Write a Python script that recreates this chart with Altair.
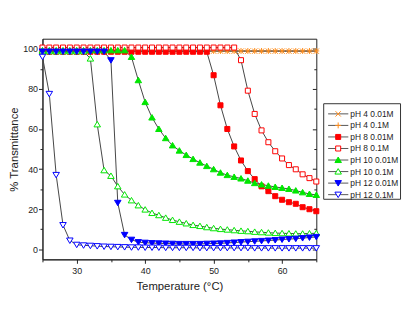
import altair as alt
import pandas as pd

temps = list(range(25, 66))
labels = ["pH 4 0.01M", "pH 4 0.1M", "pH 8 0.01M", "pH 8 0.1M",
          "pH 10 0.01M", "pH 10 0.1M", "pH 12 0.01M", "pH 12 0.1M"]

ph4_001 = [98.8, 98.8, 98.8, 98.8, 98.8, 98.8, 98.8, 98.8, 98.8, 98.8,
           98.8, 98.8, 98.8, 98.8, 98.8, 98.8, 98.8, 98.8, 98.8, 98.8,
           98.8, 98.8, 98.8, 98.8, 98.8, 98.8, 98.8, 98.8, 98.8, 98.8,
           98.8, 98.8, 98.8, 98.8, 98.8, 98.8, 98.8, 98.8, 98.8, 98.8, 98.8]
ph4_01 = [98.9, 98.9, 98.9, 98.9, 98.9, 98.9, 98.9, 98.9, 98.9, 98.9,
          98.9, 98.9, 98.9, 98.9, 98.9, 98.9, 98.9, 98.9, 98.9, 98.9,
          98.9, 98.9, 98.9, 98.9, 98.9, 98.9, 98.9, 98.9, 98.9, 98.9,
          98.9, 98.9, 98.9, 98.9, 98.9, 98.9, 98.9, 98.9, 98.9, 98.9, 98.9]
ph8_001 = [98.5, 98.5, 98.5, 98.5, 98.5, 98.5, 98.5, 98.5, 98.5, 98.5,
           98.5, 98.5, 98.5, 98.5, 98.5, 98.5, 98.5, 98.5, 98.5, 98.5,
           98.5, 98.5, 98.5, 98.5, 98.5,
           86.8, 71.8, 60.0, 51.3, 44.3, 39.0, 35.0, 31.4, 29.0, 26.5,
           24.7, 23.5, 22.7, 21.0, 20.0, 19.0]
ph8_01 = [100.6, 100.6, 100.6, 100.6, 100.6, 100.6, 100.6, 100.6, 100.6, 100.6,
          100.6, 100.6, 100.6, 100.6, 100.6, 100.6, 100.6, 100.6, 100.6, 100.6,
          100.6, 100.6, 100.6, 100.6, 100.6, 100.6, 100.6, 100.6, 100.6,
          94.3, 79.1, 67.5, 59.3, 53.4, 48.9, 45.3, 42.0, 39.9, 37.4, 35.5, 33.8]
ph10_001 = [99.2, 99.2, 99.2, 99.2, 99.2, 99.2, 99.2, 99.2, 99.2, 99.2,
            99.2, 99.2, 99.2,
            95.9, 84.3, 73.4, 65.7, 60.0, 55.4, 51.8, 49.2, 47.0, 45.0,
            43.2, 41.5, 39.9, 38.2, 37.0, 36.1, 35.3, 34.2, 33.0, 32.3,
            31.7, 31.1, 30.6, 30.1, 29.3, 28.4, 27.6, 27.1]
ph10_01 = [98.7, 98.7, 98.7, 98.7, 98.7, 98.7, 98.7,
           95.1, 62.3, 39.4, 36.6, 31.4, 27.3, 24.4, 21.9, 19.8, 18.1,
           17.0, 15.7, 14.6, 13.7, 12.9, 12.1, 11.6, 11.0, 10.5, 10.1,
           9.8, 9.5, 9.2, 9.0, 8.7, 8.5, 8.3, 8.1, 8.0, 7.9,
           7.8, 7.8, 7.9, 8.0]
ph12_001 = [98.6, 98.6, 98.6, 98.6, 98.6, 98.6, 98.6, 98.6, 98.6, 98.6,
            94.3, 23.2, 7.2, 4.8, 3.6, 3.3, 3.1, 3.0, 2.9, 2.8,
            2.7, 2.7, 2.7, 2.7, 2.8, 2.9, 3.0, 3.2, 3.4, 3.6,
            3.8, 4.0, 4.2, 4.4, 4.6, 4.9, 5.1, 5.3, 5.6, 5.9, 6.2]
ph12_01 = [96.0, 77.5, 37.1, 12.1, 4.4, 2.3, 2.0, 1.8, 1.6, 1.4,
           1.3, 1.2, 1.1, 1.0, 1.0, 0.9, 0.9, 0.9, 0.8, 0.8,
           0.8, 0.8, 0.8, 0.7, 0.7, 0.7, 0.7, 0.7, 0.7, 0.7,
           0.7, 0.6, 0.6, 0.6, 0.6, 0.6, 0.6, 0.6, 0.6, 0.6, 0.6]

series_values = [ph4_001, ph4_01, ph8_001, ph8_01, ph10_001, ph10_01, ph12_001, ph12_01]

# styles
colors = ["#FF8C1A", "#FF8C1A", "#FF0000", "#FF0000", "#00E600", "#00E600", "#0000FF", "#0000FF"]
fills = ["transparent", "transparent", "#FF0000", "#FFFFFF", "#00E600", "#FFFFFF", "#0000FF", "#FFFFFF"]
X_PATH = "M-0.9,-0.9L0.9,0.9M-0.9,0.9L0.9,-0.9"
PLUS_PATH = "M-1,0H1M0,-1V1"
SQ_PATH = "M-0.85,-0.85H0.85V0.85H-0.85Z"
TU_PATH = "M0,-1.0L1.1,0.85L-1.1,0.85Z"
TD_PATH = "M0,1.0L1.1,-0.85L-1.1,-0.85Z"
shapes = [X_PATH, PLUS_PATH, SQ_PATH, SQ_PATH, TU_PATH, TU_PATH, TD_PATH, TD_PATH]

rows = []
for lab, vals in zip(labels, series_values):
    for t, v in zip(temps, vals):
        rows.append({"series": lab, "T": t, "value": v})
df = pd.DataFrame(rows)

FONT = "Liberation Sans"
INK = "#222222"

x_scale = alt.Scale(domain=[25, 65], nice=False, zero=False)
y_scale = alt.Scale(domain=[-5, 105], nice=False, zero=False)

x_axis = alt.Axis(title="Temperature (°C)", values=list(range(25, 66, 5)),
                  labelExpr="datum.value % 10 === 0 ? datum.label : ''",
                  tickSize={"expr": "datum.value % 10 === 0 ? 4 : 2.5"},
                  labelPadding=3, titlePadding=6)

shape_enc = alt.Shape("series:N", scale=alt.Scale(domain=labels, range=shapes), legend=None)
stroke_enc = alt.Stroke("series:N", scale=alt.Scale(domain=labels, range=colors), legend=None)
fill_enc = alt.Fill("series:N", scale=alt.Scale(domain=labels, range=fills), legend=None)

lines = alt.Chart(df).mark_line(color="#444444", strokeWidth=1).encode(
    x=alt.X("T:Q", scale=x_scale, axis=x_axis),
    y=alt.Y("value:Q", scale=y_scale,
            axis=alt.Axis(title="% Transmittance", values=list(range(0, 101, 10)),
                          labelExpr="datum.value % 20 === 0 ? datum.label : ''",
                          tickSize={"expr": "datum.value % 20 === 0 ? 4 : 2.5"},
                          labelPadding=1, titlePadding=3)),
    detail="series:N",
)

points = alt.Chart(df).mark_point(filled=False, size=36, strokeWidth=1, opacity=1, fillOpacity=1).encode(
    x=alt.X("T:Q", scale=x_scale, axis=x_axis),
    y=alt.Y("value:Q", scale=y_scale,
            axis=alt.Axis(orient="right", title=None, labels=False, domain=False,
                          values=list(range(0, 101, 10)),
                          tickSize={"expr": "datum.value % 20 === 0 ? -4 : -2.5"})),
    shape=shape_enc, stroke=stroke_enc, fill=fill_enc,
)

main = alt.layer(lines, points).resolve_axis(y="independent").properties(width=278, height=224)

# legend panel
leg_df = pd.DataFrame({"series": labels})
leg_y = alt.Y("series:N", axis=None,
              scale=alt.Scale(type="point", domain=labels, range=[76.3, 158.3], padding=0))

leg_box = alt.Chart(pd.DataFrame({"k": [0]})).mark_rect(
    fill="white", stroke="#333333", strokeWidth=1).encode(
    x=alt.value(0.5), x2=alt.value(78.5), y=alt.value(66), y2=alt.value(163))
leg_line = alt.Chart(leg_df).mark_rule(color="#555555", strokeWidth=1).encode(
    x=alt.value(5), x2=alt.value(25.5), y=leg_y)
leg_pts = alt.Chart(leg_df).mark_point(filled=False, size=36, strokeWidth=1, opacity=1, fillOpacity=1).encode(
    x=alt.value(15.2), y=leg_y, shape=shape_enc, stroke=stroke_enc, fill=fill_enc)
leg_txt = alt.Chart(leg_df).mark_text(align="left", baseline="middle", fontSize=8.5,
                                      font=FONT, color=INK).encode(
    x=alt.value(27.5), y=leg_y, text="series:N")

legend = alt.layer(leg_box, leg_line, leg_pts, leg_txt).properties(
    width=78, height=224, view=alt.ViewConfig(stroke="transparent"))

chart = alt.hconcat(main, legend, spacing=0).properties(
    padding={"left": 0, "top": 28, "right": 0, "bottom": 0},
).configure_view(stroke=INK, strokeWidth=1).configure_axis(
    grid=False, domainColor=INK, tickColor=INK, labelColor=INK, titleColor=INK,
    labelFont=FONT, titleFont=FONT, labelFontSize=9, titleFontSize=11.5,
    titleFontWeight="normal", domainWidth=1, tickWidth=1,
)

chart.save("out.html", embed_options={"renderer": "svg", "actions": False})
